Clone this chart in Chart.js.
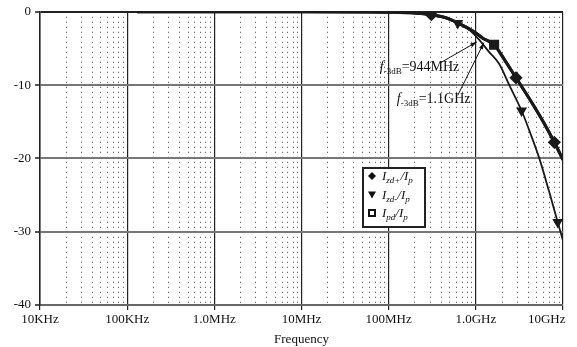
<!DOCTYPE html>
<html>
<head>
<meta charset="utf-8">
<script src="https://cdn.jsdelivr.net/npm/chart.js@4.4.0/dist/chart.umd.min.js"></script>
<style>
body { margin:0; background:#fff; }
#c { display:block; }
</style>
</head>
<body>
<canvas id="c" width="577" height="347"></canvas>
<script>
// decades on the x axis and their labels
var decades = [1e4, 1e5, 1e6, 1e7, 1e8, 1e9, 1e10];
var xLabels = ["10KHz", "100KHz", "1.0MHz", "10MHz", "100MHz", "1.0GHz", "10GHz"];

// Izd+/Ip and Ipd/Ip (same curve, the thick one)
var plusFreq = [1.3e5, 1e6, 1e7, 5e7, 1e8, 2e8, 3.09e8, 4.5e8, 6.2e8, 8e8, 1e9, 1.2e9, 1.62e9, 2.2e9, 2.89e9, 4.29e9, 6e9, 7.95e9, 1e10];
var plusDb   = [0, 0, 0, -0.02, -0.05, -0.17, -0.4, -0.8, -1.5, -2.2, -2.9, -3.6, -4.5, -6.8, -9.0, -12.2, -15.1, -17.8, -20.2];
var plusMarks = [3.09e8, 2.89e9, 7.95e9];
var pdMarks = [1.62e9];

// Izd-/Ip (thin curve)
var minusFreq = [1.3e5, 1e6, 1e7, 1e8, 2e8, 3.09e8, 4.5e8, 6.2e8, 8e8, 9.44e8, 1.09e9, 1.4e9, 1.85e9, 2.42e9, 3.35e9, 4.2e9, 5.35e9, 7e9, 8.7e9, 1e10];
var minusDb   = [0, 0, 0, -0.05, -0.2, -0.45, -0.9, -1.55, -2.25, -3.0, -3.8, -5.4, -7.1, -10, -13.5, -16.5, -20, -24.7, -28.7, -31.2];
var minusMarks = [6.2e8, 3.35e9, 8.7e9];

function pts(fs, ds) {
	var out = [];
	for (var i = 0; i < fs.length; i++) out.push({x: fs[i], y: ds[i]});
	return out;
}

function markRadius(marks, r) {
	return function (ctx) {
		var p = ctx.raw;
		if (!p) return 0;
		return marks.indexOf(p.x) >= 0 ? r : 0;
	};
}

function isDecade(v) {
	return decades.indexOf(v) >= 0;
}

var annot = {
	id: "annot",
	afterDraw: function (chart) {
		var ctx = chart.ctx;
		var xs = chart.scales.x, ys = chart.scales.y;
		ctx.save();
		ctx.fillStyle = "#111";
		ctx.strokeStyle = "#111";

		function fLabel(x, y, rest) {
			ctx.textBaseline = "alphabetic";
			ctx.textAlign = "left";
			ctx.font = "italic 14px 'Liberation Serif'";
			ctx.fillText("f", x, y);
			x += ctx.measureText("f").width;
			ctx.font = "9px 'Liberation Serif'";
			ctx.fillText("-3dB", x, y + 3);
			x += ctx.measureText("-3dB").width;
			ctx.font = "14px 'Liberation Serif'";
			ctx.fillText(rest, x, y);
		}
		function arrow(x1, y1, x2, y2) {
			ctx.lineWidth = 1;
			ctx.beginPath();
			ctx.moveTo(x1, y1);
			ctx.lineTo(x2, y2);
			ctx.stroke();
			var a = Math.atan2(y2 - y1, x2 - x1);
			ctx.beginPath();
			ctx.moveTo(x2, y2);
			ctx.lineTo(x2 - 7 * Math.cos(a - 0.3), y2 - 7 * Math.sin(a - 0.3));
			ctx.lineTo(x2 - 7 * Math.cos(a + 0.3), y2 - 7 * Math.sin(a + 0.3));
			ctx.closePath();
			ctx.fill();
		}

		// f-3dB labels
		fLabel(xs.getPixelForValue(7.9e7), ys.getPixelForValue(-8.1), "=944MHz");
		fLabel(xs.getPixelForValue(1.24e8), ys.getPixelForValue(-12.4), "=1.1GHz");
		arrow(xs.getPixelForValue(4.0e8), ys.getPixelForValue(-6.9), xs.getPixelForValue(1.03e9), ys.getPixelForValue(-4.1));
		arrow(xs.getPixelForValue(6.2e8), ys.getPixelForValue(-11.4), xs.getPixelForValue(1.24e9), ys.getPixelForValue(-4.2));

		// legend box
		var bx = 363, by = 168, bw = 62, bh = 59;
		ctx.fillStyle = "#fff";
		ctx.fillRect(bx, by, bw, bh);
		ctx.lineWidth = 2;
		ctx.strokeStyle = "#222";
		ctx.strokeRect(bx, by, bw, bh);
		ctx.fillStyle = "#111";

		var rows = [["zd+", "rectRot"], ["zd-", "triangle"], ["pd", "rect"]];
		for (var i = 0; i < rows.length; i++) {
			var ry = by + 8 + i * 18.5;
			var mx = bx + 9;
			ctx.fillStyle = "#111";
			if (rows[i][1] == "rectRot") {
				ctx.beginPath();
				ctx.moveTo(mx, ry - 4); ctx.lineTo(mx + 4, ry); ctx.lineTo(mx, ry + 4); ctx.lineTo(mx - 4, ry);
				ctx.closePath(); ctx.fill();
			} else if (rows[i][1] == "triangle") {
				ctx.beginPath();
				ctx.moveTo(mx - 4, ry - 3); ctx.lineTo(mx + 4, ry - 3); ctx.lineTo(mx, ry + 4);
				ctx.closePath(); ctx.fill();
			} else {
				ctx.fillRect(mx - 4, ry - 4, 8, 8);
				ctx.fillStyle = "#fff";
				ctx.fillRect(mx - 2, ry - 2, 4, 4);
				ctx.fillStyle = "#111";
			}
			var tx = bx + 19, ty = ry + 4;
			ctx.font = "italic 13px 'Liberation Serif'";
			ctx.fillText("I", tx, ty); tx += ctx.measureText("I").width;
			ctx.font = "italic 9px 'Liberation Serif'";
			ctx.fillText(rows[i][0], tx, ty + 3); tx += ctx.measureText(rows[i][0]).width;
			ctx.font = "italic 13px 'Liberation Serif'";
			ctx.fillText("/I", tx, ty); tx += ctx.measureText("/I").width;
			ctx.font = "italic 9px 'Liberation Serif'";
			ctx.fillText("p", tx, ty + 3);
		}
		ctx.restore();
	}
};

var ctx = document.getElementById("c");
var myChart = new Chart(ctx, {
	type: "line",
	data: {
		datasets: [{
			label: "Izd+/Ip",
			data: pts(plusFreq, plusDb),
			borderColor: "#1a1a1a",
			backgroundColor: "#1a1a1a",
			borderWidth: 3,
			pointStyle: "rectRot",
			pointRadius: markRadius(plusMarks, 4.5),
			cubicInterpolationMode: "monotone"
		}, {
			label: "Izd-/Ip",
			data: pts(minusFreq, minusDb),
			borderColor: "#1a1a1a",
			backgroundColor: "#1a1a1a",
			borderWidth: 1.8,
			pointStyle: "triangle",
			rotation: 180,
			pointRadius: markRadius(minusMarks, 4.5),
			cubicInterpolationMode: "monotone"
		}, {
			label: "Ipd/Ip",
			data: pts(plusFreq, plusDb),
			borderColor: "#1a1a1a",
			backgroundColor: "#1a1a1a",
			borderWidth: 3,
			pointStyle: "rect",
			pointRadius: markRadius(pdMarks, 5),
			cubicInterpolationMode: "monotone"
		}]
	},
	options: {
		responsive: false,
		animation: false,
		layout: { padding: { top: 11, right: 14, left: 0, bottom: 0 } },
		plugins: {
			legend: { display: false },
			tooltip: { enabled: false }
		},
		elements: { point: { borderWidth: 0, hoverRadius: 0 } },
		scales: {
			x: {
				type: "logarithmic",
				min: 1e4,
				max: 1e10,
				afterBuildTicks: function (scale) {
					var t = [];
					for (var e = 4; e <= 10; e++) {
						for (var s = 1; s <= 9; s++) {
							var v = s * Math.pow(10, e);
							if (v > 1e10) break;
							t.push({ value: v, major: s == 1 });
						}
					}
					scale.ticks = t;
				},
				afterFit: function (scale) {
					scale.height = 42;
					scale.paddingLeft = 0;
					scale.paddingRight = 0;
				},
				grid: {
					color: function (c) { return c.tick && isDecade(c.tick.value) ? "#222" : "#444"; },
					lineWidth: function (c) { return c.tick && isDecade(c.tick.value) ? 1.2 : 1; },
					tickLength: 5,
					tickColor: function (c) { return c.tick && isDecade(c.tick.value) ? "#222" : "rgba(0,0,0,0)"; }
				},
				border: {
					color: "#666",
					width: 2,
					dash: function (c) { return c.tick && !isDecade(c.tick.value) ? [1, 4] : []; }
				},
				ticks: {
					autoSkip: false,
					maxRotation: 0,
					padding: 2,
					color: "#111",
					font: { family: "'Liberation Serif'", size: 13 },
					callback: function (value) {
						var i = decades.indexOf(value);
						if (i < 0) return "";
						// last label sits inside the canvas, shifted left
						if (i == decades.length - 1) return xLabels[i] + "\u00a0\u00a0\u00a0\u00a0\u00a0\u00a0\u00a0\u00a0\u00a0\u00a0";
						return xLabels[i];
					}
				},
				title: {
					display: true,
					text: "Frequency",
					color: "#111",
					padding: { top: 0, bottom: 0 },
					font: { family: "'Liberation Serif'", size: 13 }
				}
			},
			y: {
				min: -40,
				max: 0,
				afterFit: function (scale) { scale.width = 40; },
				grid: {
					color: function (c) { return c.tick && c.tick.value == 0 ? "#222" : "#777"; },
					lineWidth: 2,
					tickLength: 5,
					tickColor: "#555"
				},
				border: { color: "#222", width: 1.5 },
				ticks: {
					stepSize: 10,
					padding: 4,
					color: "#111",
					font: { family: "'Liberation Serif'", size: 13 }
				}
			}
		}
	},
	plugins: [annot]
});
</script>
</body>
</html>
